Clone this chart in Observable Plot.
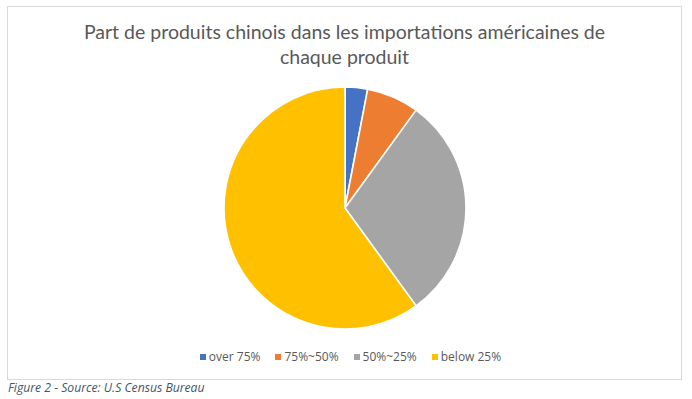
<!DOCTYPE html>
<html>
<head>
<meta charset="utf-8">
<script src="https://cdn.jsdelivr.net/npm/d3@7"></script>
<script src="https://cdn.jsdelivr.net/npm/@observablehq/plot@0.6"></script>
<style>
  html, body { margin: 0; padding: 0; background: #fff; }
  body { width: 692px; height: 399px; position: relative; overflow: hidden; }
  #frame {
    position: absolute; left: 7px; top: 6px; width: 673px; height: 372px;
    border: 1px solid #d9d9d9; background: #fff;
  }
  #title {
    position: absolute; left: 0; right: 0; top: 12px;
    text-align: center; font-family: Lato, sans-serif; font-size: 19.5px;
    line-height: 25px; color: #595959;
  }
  #chart { position: absolute; left: 0; top: 73px; }
  #legend {
    position: absolute; left: 0; right: 0; top: 341px;
    display: flex; justify-content: center; padding-left: 12px;
  }
  #legend .item {
    display: flex; align-items: center; margin-right: 15px;
    font-family: "Open Sans", sans-serif; font-size: 12px; color: #595959;
  }
  #legend .item:last-child { margin-right: 0; }
  #legend svg { margin-right: 3px; }
  #caption {
    position: absolute; left: 8px; top: 379px;
    font-family: "Open Sans", sans-serif; font-style: italic; font-size: 12.2px;
    color: #44546a;
  }
</style>
</head>
<body>
<div id="frame">
  <div id="title">Part de produits chinois dans les importations américaines de<br>chaque produit</div>
  <div id="chart"></div>
  <div id="legend"></div>
</div>
<div id="caption">Figure 2 - Source: U.S Census Bureau</div>
<script>
// Share of US imports by product category, grouped by China's share
const categories = ["over 75%", "75%~50%", "50%~25%", "below 25%"];
const shares = [3, 7, 30, 60];
const palette = ["#4472c4", "#ed7d31", "#a5a5a5", "#ffc000"];

const data = categories.map((category, i) => ({category, share: shares[i]}));

const color = Plot.scale({color: {type: "ordinal", domain: categories, range: palette}});

// Pie drawn as a render mark: d3.pie lays out the angles, Plot's color scale fills them
function pieMark(index, scales, values, dimensions) {
  const {width, height} = dimensions;
  const r = 121;
  const arcs = d3.pie().sort(null).value(d => d.share)(data);
  const arc = d3.arc().innerRadius(0).outerRadius(r);
  const g = d3.create("svg:g").attr("transform", `translate(${width / 2 + 0.5},${height / 2})`);
  g.selectAll("path")
    .data(arcs)
    .join("path")
    .attr("d", arc)
    .attr("fill", d => color.apply(d.data.category))
    .attr("stroke", "#fff")
    .attr("stroke-width", 1.6)
    .attr("stroke-linejoin", "round");
  return g.node();
}

const chart = Plot.plot({
  width: 673,
  height: 256,
  margin: 0,
  style: {background: "transparent"},
  marks: [pieMark]
});
document.getElementById("chart").append(chart);

// Legend swatches
const legend = d3.select("#legend");
categories.forEach(c => {
  const item = legend.append("div").attr("class", "item");
  item.append("svg").attr("width", 6).attr("height", 6)
    .append("rect").attr("width", 6).attr("height", 6).attr("fill", color.apply(c));
  item.append("span").text(c);
});
</script>
</body>
</html>
